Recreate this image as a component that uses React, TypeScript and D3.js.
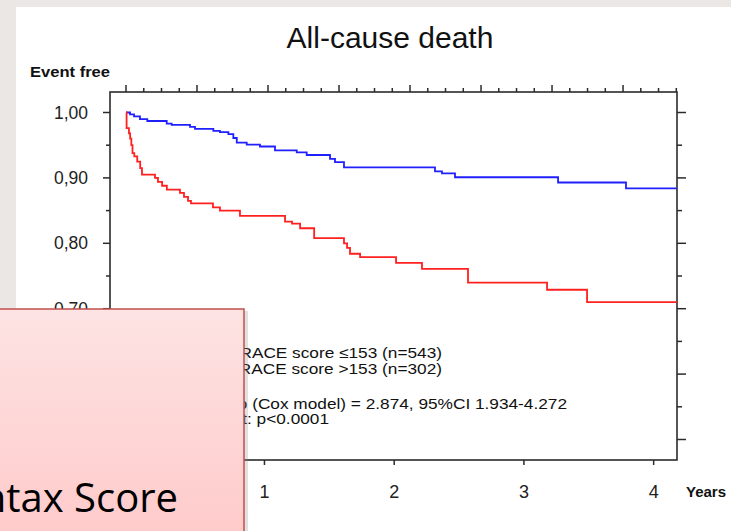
import React from "react";
import * as d3 from "d3";

// Kaplan-Meier steps, time in months
const lowTimes = [0, 0.34, 0.68, 1.18, 1.8, 3.44, 3.86, 5.41, 5.83, 7.38, 7.94, 8.65, 9.07, 9.36, 10.2, 11.32, 12.59, 14.43, 15.27, 17.24, 17.66, 18.42, 26.11, 26.7, 27.8, 36.51, 42.25];
const lowSurv = [1, 0.997, 0.994, 0.99, 0.987, 0.983, 0.981, 0.978, 0.975, 0.972, 0.97, 0.967, 0.961, 0.954, 0.951, 0.948, 0.942, 0.939, 0.935, 0.929, 0.924, 0.916, 0.91, 0.907, 0.901, 0.893, 0.884];

const highTimes = [0, 0.05, 0.25, 0.35, 0.45, 0.55, 0.7, 0.95, 1.2, 1.35, 2.45, 2.7, 3.05, 3.45, 4.56, 4.9, 5.24, 5.49, 7.35, 7.94, 9.63, 13.44, 14.03, 14.71, 15.9, 18.42, 18.68, 18.93, 19.78, 22.82, 25.01, 28.9, 35.58, 38.96];
const highSurv = [1, 0.976, 0.968, 0.96, 0.95, 0.938, 0.933, 0.925, 0.915, 0.905, 0.9, 0.894, 0.888, 0.882, 0.877, 0.871, 0.865, 0.861, 0.855, 0.85, 0.842, 0.833, 0.83, 0.823, 0.808, 0.8, 0.793, 0.784, 0.779, 0.77, 0.761, 0.74, 0.729, 0.71];

const followUpEnd = 46.56;
const yearTicks = [1, 2, 3, 4];
const yLabelValues = [1.0, 0.9, 0.8, 0.7, 0.6, 0.5];
const yTickValues = d3.range(0.5, 1.0001, 0.05);
const topTickValues = d3.range(0, followUpEnd, 1.5);

const legendLines = [
  "GRACE score \u2264153 (n=543)",
  "GRACE score >153 (n=302)",
  "Hazard ratio (Cox model) = 2.874, 95%CI 1.934-4.272",
  "Log-rank test: p<0.0001",
];

const W = 731;
const H = 531;
const frame = { left: 110, right: 677, top: 92, bottom: 460 };
const font = "'Liberation Sans', Arial, sans-serif";
const axisColor = "#2b2b2b";

export default function App() {
  const x = d3.scaleLinear().domain([0, followUpEnd]).range([126, frame.right]);
  const y = d3.scaleLinear().domain([0.5, 1.0]).range([439.5, 112.5]);
  const xYears = d3.scaleLinear().domain([0.85, 4.18]).range([245, frame.right]);

  const line = d3
    .line<[number, number]>()
    .x(d => x(d[0]))
    .y(d => y(d[1]))
    .curve(d3.curveStepAfter);

  const lowPts: [number, number][] = lowTimes.map((t, i) => [t, lowSurv[i]]);
  lowPts.push([followUpEnd, lowSurv[lowSurv.length - 1]]);
  const highPts: [number, number][] = highTimes.map((t, i) => [t, highSurv[i]]);
  highPts.push([followUpEnd, highSurv[highSurv.length - 1]]);

  const fmt = (v: number) => v.toFixed(2).replace(".", ",");
  const isMajor = (v: number) => Math.abs(Math.round(v * 10) - v * 10) < 1e-6;

  const legendY = [358, 374, 409, 424];
  const legendEnd = [442, 442, 567, 329];

  return (
    <svg
      width={W}
      height={H}
      style={{ position: "fixed", left: 0, top: 0, display: "block" }}
    >
      <defs>
        <linearGradient id="pinkFill" x1="0" y1="0" x2="0" y2="1">
          <stop offset="0%" stopColor="#fde3e3" />
          <stop offset="100%" stopColor="#ffc9c9" />
        </linearGradient>
      </defs>

      {/* slide background */}
      <rect x={0} y={0} width={W} height={H} fill="#eae7e4" />
      <rect x={16} y={7} width={W - 16} height={H - 7} fill="#ffffff" />

      {/* title */}
      <text x={390} y={48} textAnchor="middle" fontFamily={font} fontSize={30} fill="#111">
        All-cause death
      </text>
      <text
        x={30}
        y={77}
        fontFamily={font}
        fontSize={15}
        fontWeight="bold"
        fill="#111"
        textLength={80}
        lengthAdjust="spacingAndGlyphs"
      >
        Event free
      </text>

      {/* frame */}
      <rect
        x={frame.left}
        y={frame.top}
        width={frame.right - frame.left}
        height={frame.bottom - frame.top}
        fill="none"
        stroke={axisColor}
        strokeWidth={1.6}
      />

      {/* top ticks */}
      {topTickValues.map((t, i) => (
        <line
          key={"tt" + i}
          x1={x(t)}
          x2={x(t)}
          y1={frame.top}
          y2={frame.top - (i % 4 === 0 ? 7 : 4)}
          stroke={axisColor}
          strokeWidth={1.5}
        />
      ))}

      {/* left and right ticks */}
      {yTickValues.map((v, i) => (
        <g key={"yt" + i}>
          <line
            x1={frame.left}
            x2={frame.left - (isMajor(v) ? 7 : 4)}
            y1={y(v)}
            y2={y(v)}
            stroke={axisColor}
            strokeWidth={1.5}
          />
          <line
            x1={frame.right}
            x2={frame.right + (isMajor(v) ? 9 : 5)}
            y1={y(v)}
            y2={y(v)}
            stroke={axisColor}
            strokeWidth={1.5}
          />
        </g>
      ))}

      {yLabelValues.map(v => (
        <text
          key={"yl" + v}
          x={88}
          y={y(v) + 6}
          textAnchor="end"
          fontFamily={font}
          fontSize={17.5}
          fill="#222"
        >
          {fmt(v)}
        </text>
      ))}

      {/* bottom year axis */}
      {yearTicks.map(t => (
        <g key={"xb" + t}>
          <line
            x1={xYears(t)}
            x2={xYears(t)}
            y1={frame.bottom}
            y2={frame.bottom + 5}
            stroke={axisColor}
            strokeWidth={1.5}
          />
          <text
            x={xYears(t)}
            y={498}
            textAnchor="middle"
            fontFamily={font}
            fontSize={18}
            fill="#222"
          >
            {t}
          </text>
        </g>
      ))}
      <text x={686} y={497} fontFamily={font} fontSize={15} fontWeight="bold" fill="#111">
        Years
      </text>

      {/* curves */}
      <path d={line(lowPts) || ""} fill="none" stroke="#2020ff" strokeWidth={1.8} />
      <path d={line(highPts) || ""} fill="none" stroke="#ff2020" strokeWidth={1.8} />

      {/* legend */}
      {legendLines.map((s, i) => (
        <g key={"lg" + i} transform={`translate(${legendEnd[i]},${legendY[i]}) scale(1.15,1)`}>
          <text x={0} y={0} textAnchor="end" fontFamily={font} fontSize={15} fill="#111">
            {s}
          </text>
        </g>
      ))}

      {/* overlay box */}
      <rect x={-10} y={311} width={258} height={240} fill="#888" opacity={0.25} />
      <rect
        x={-10}
        y={309}
        width={254}
        height={240}
        fill="url(#pinkFill)"
        stroke="#c0504d"
        strokeWidth={1.5}
      />
      <text
        x={178}
        y={512}
        textAnchor="end"
        fontFamily="'Open Sans', sans-serif"
        fontSize={40}
        fill="#000"
      >
        Syntax Score
      </text>
    </svg>
  );
}
